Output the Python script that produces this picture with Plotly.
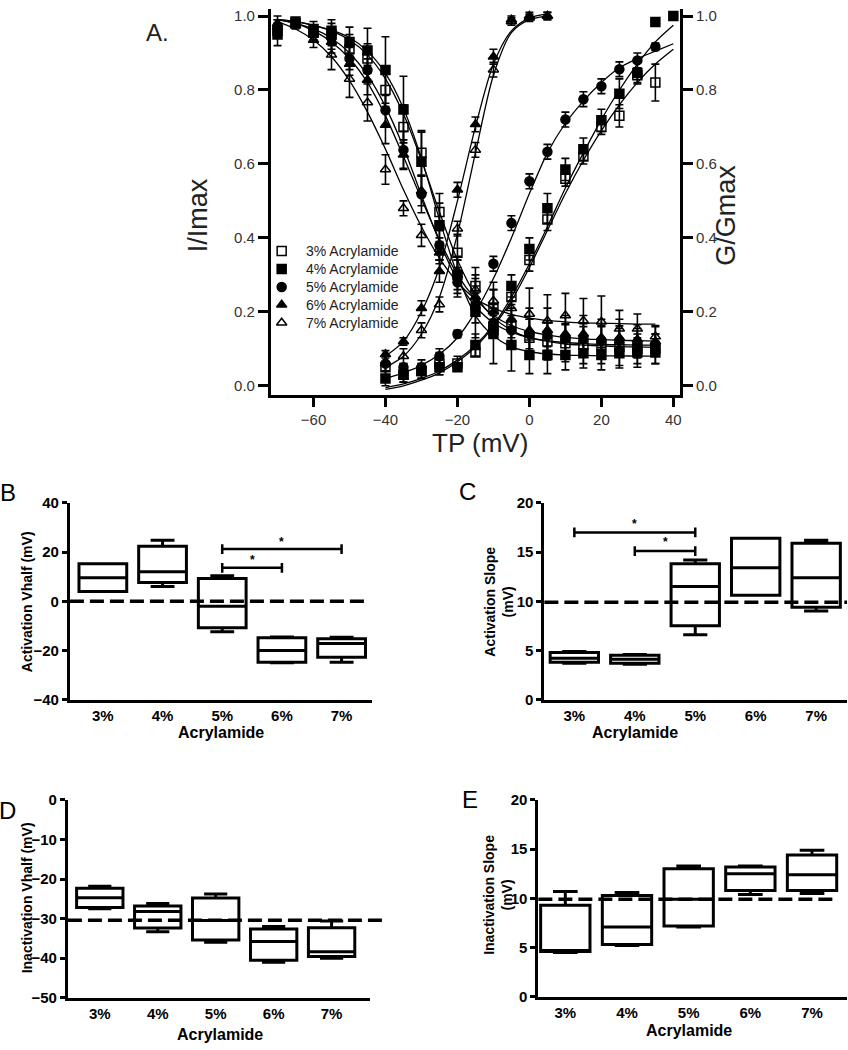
import plotly.graph_objects as go

FONT = "Arial, Liberation Sans, sans-serif"
W, H = 848, 1050

# ---------------- panel A data ----------------
groups = ["3% Acrylamide", "4% Acrylamide", "5% Acrylamide", "6% Acrylamide", "7% Acrylamide"]
symbols = ["square-open", "square", "circle", "triangle-up", "triangle-up-open"]

# steady-state inactivation (I/Imax)
v_inact = [-70, -65, -60, -55, -50, -45, -40, -35, -30, -25, -20,
           -15, -10, -5, 0, 5, 10, 15, 20, 25, 30, 35]
inact_3 = [0.96, 0.985, 0.955, 0.95, 0.91, 0.885, 0.80, 0.70, 0.63, 0.47, 0.36,
           0.27, 0.21, 0.16, 0.13, 0.12, 0.115, 0.11, 0.11, 0.105, 0.10, 0.10]
inact_4 = [0.95, 0.98, 0.965, 0.96, 0.93, 0.907, 0.854, 0.747, 0.606, 0.434, 0.30,
           0.20, 0.14, 0.11, 0.083, 0.083, 0.083, 0.088, 0.083, 0.088, 0.09, 0.09]
inact_5 = [0.97, 0.98, 0.955, 0.94, 0.885, 0.854, 0.745, 0.638, 0.518, 0.38, 0.28,
           0.21, 0.17, 0.15, 0.14, 0.136, 0.128, 0.128, 0.122, 0.122, 0.115, 0.11]
inact_6 = [0.98, 0.98, 0.95, 0.93, 0.87, 0.827, 0.705, 0.625, 0.527, 0.36, 0.30,
           0.24, 0.20, 0.18, 0.15, 0.15, 0.14, 0.14, 0.13, 0.13, 0.125, 0.12]
inact_7 = [0.97, 0.975, 0.935, 0.895, 0.83, 0.766, 0.585, 0.48, 0.407, 0.37, 0.31,
           0.26, 0.23, 0.21, 0.194, 0.176, 0.19, 0.176, 0.173, 0.154, 0.154, 0.133]

inact_err_3 = [0.02, 0.01, 0.02, 0.03, 0.04, 0.04, 0.05, 0.06, 0.06, 0.05, 0.05,
               0.05, 0.05, 0.05, 0.05, 0.05, 0.05, 0.05, 0.05, 0.05, 0.04, 0.04]
inact_err_4 = [0.03, 0.01, 0.02, 0.03, 0.04, 0.06, 0.09, 0.09, 0.08, 0.06, 0.05,
               0.07, 0.08, 0.07, 0.05, 0.05, 0.04, 0.04, 0.04, 0.04, 0.04, 0.03]
inact_err_5 = [0.02, 0.01, 0.02, 0.03, 0.03, 0.03, 0.04, 0.05, 0.05, 0.04, 0.04,
               0.04, 0.04, 0.04, 0.04, 0.04, 0.04, 0.04, 0.04, 0.04, 0.04, 0.03]
inact_err_6 = [0.02, 0.01, 0.02, 0.03, 0.03, 0.04, 0.05, 0.04, 0.04, 0.03, 0.04,
               0.05, 0.06, 0.05, 0.06, 0.06, 0.05, 0.05, 0.05, 0.05, 0.04, 0.04]
inact_err_7 = [0.02, 0.01, 0.02, 0.04, 0.05, 0.05, 0.04, 0.02, 0.03, 0.03, 0.03,
               0.04, 0.05, 0.05, 0.07, 0.07, 0.06, 0.06, 0.07, 0.05, 0.04, 0.03]

# fitted inactivation curves, read at the same potentials
inact_fit_3 = [0.99, 0.985, 0.975, 0.96, 0.935, 0.895, 0.83, 0.735, 0.61, 0.47, 0.34,
               0.245, 0.185, 0.15, 0.13, 0.12, 0.113, 0.11, 0.108, 0.106, 0.105, 0.104]
inact_fit_4 = [0.99, 0.985, 0.975, 0.962, 0.942, 0.905, 0.845, 0.75, 0.615, 0.45, 0.30,
               0.19, 0.135, 0.105, 0.092, 0.086, 0.083, 0.082, 0.081, 0.081, 0.08, 0.08]
inact_fit_5 = [0.99, 0.98, 0.965, 0.94, 0.90, 0.84, 0.755, 0.645, 0.515, 0.39, 0.285,
               0.215, 0.17, 0.145, 0.13, 0.122, 0.117, 0.114, 0.112, 0.111, 0.11, 0.11]
inact_fit_6 = [0.99, 0.98, 0.96, 0.93, 0.885, 0.82, 0.73, 0.62, 0.505, 0.395, 0.30,
               0.235, 0.19, 0.163, 0.147, 0.137, 0.131, 0.127, 0.125, 0.123, 0.122, 0.121]
inact_fit_7 = [0.985, 0.965, 0.935, 0.89, 0.825, 0.74, 0.64, 0.53, 0.43, 0.345, 0.28,
               0.235, 0.21, 0.193, 0.183, 0.177, 0.173, 0.17, 0.169, 0.168, 0.167, 0.167]

# activation (G/Gmax)
v_act_3 = [-40, -35, -30, -25, -20, -15, -10, -5, 0, 5, 10, 15, 20, 25, 30, 35]
act_3 = [0.05, 0.03, 0.04, 0.06, 0.06, 0.09, 0.15, 0.24, 0.34, 0.45, 0.56, 0.62, 0.70, 0.73, 0.84, 0.82]
act_err_3 = [0.03, 0.02, 0.02, 0.03, 0.02, 0.01, 0.02, 0.02, 0.03, 0.03, 0.02, 0.02, 0.02, 0.03, 0.02, 0.05]
v_act_4 = [-40, -35, -30, -25, -20, -15, -10, -5, 0, 5, 10, 15, 20, 25, 30, 35, 40]
act_4 = [0.02, 0.03, 0.04, 0.05, 0.05, 0.11, 0.16, 0.27, 0.37, 0.48, 0.585, 0.64, 0.718, 0.79, 0.846, 0.984, 1.0]
act_err_4 = [0.02, 0.02, 0.02, 0.02, 0.01, 0.03, 0.03, 0.03, 0.03, 0.04, 0.03, 0.03, 0.03, 0.04, 0.03, 0.01, 0.01]
v_act_5 = [-40, -35, -30, -25, -20, -15, -10, -5, 0, 5, 10, 15, 20, 25, 30, 35]
act_5 = [0.06, 0.05, 0.05, 0.08, 0.14, 0.22, 0.33, 0.44, 0.553, 0.633, 0.72, 0.775, 0.81, 0.856, 0.88, 0.917]
act_err_5 = [0.02, 0.01, 0.02, 0.02, 0.01, 0.02, 0.02, 0.02, 0.02, 0.02, 0.02, 0.02, 0.02, 0.02, 0.02, 0.01]
v_act_67 = [-40, -35, -30, -25, -20, -15, -10, -5, 0, 5]
act_6 = [0.085, 0.12, 0.21, 0.31, 0.53, 0.707, 0.89, 0.99, 1.0, 1.0]
act_err_6 = [0.01, 0.01, 0.02, 0.03, 0.02, 0.02, 0.02, 0.01, 0.01, 0.01]
act_7 = [0.06, 0.08, 0.15, 0.22, 0.425, 0.638, 0.855, 0.985, 0.995, 1.0]
act_err_7 = [0.02, 0.02, 0.02, 0.02, 0.02, 0.02, 0.02, 0.01, 0.01, 0.01]

# fitted activation curves
v_act_fit = [-40, -35, -30, -25, -20, -15, -10, -5, 0, 5, 10, 15, 20, 25, 30, 35, 40]
act_fit_3 = [-0.01, 0.0, 0.015, 0.035, 0.065, 0.105, 0.16, 0.23, 0.32, 0.42, 0.52, 0.61, 0.69, 0.76, 0.82, 0.87, 0.91]
act_fit_4 = [-0.005, 0.005, 0.02, 0.04, 0.07, 0.11, 0.165, 0.24, 0.33, 0.43, 0.535, 0.63, 0.72, 0.80, 0.87, 0.93, 0.975]
act_fit_5 = [0.02, 0.035, 0.055, 0.085, 0.13, 0.20, 0.29, 0.40, 0.52, 0.63, 0.71, 0.77, 0.82, 0.86, 0.885, 0.905, 0.925]
act_fit_6 = [0.08, 0.12, 0.20, 0.32, 0.50, 0.70, 0.87, 0.96, 0.995, 1.005]
act_fit_7 = [0.05, 0.08, 0.14, 0.24, 0.41, 0.63, 0.84, 0.955, 0.99, 1.0]

# ---------------- panels B-E data (box: min / q1 / median / q3 / max) ----------------
conc = ["3%", "4%", "5%", "6%", "7%"]

act_vhalf_min = [4.0, 6.0, -12.4, -25.0, -24.8]
act_vhalf_q1 = [4.0, 7.6, -10.8, -24.8, -22.8]
act_vhalf_med = [9.6, 12.0, -2.0, -20.0, -17.2]
act_vhalf_q3 = [15.2, 22.4, 9.2, -14.8, -15.2]
act_vhalf_max = [15.2, 24.8, 10.4, -14.5, -14.6]

act_slope_min = [3.7, 3.6, 6.6, 10.6, 9.0]
act_slope_q1 = [3.8, 3.7, 7.5, 10.6, 9.4]
act_slope_med = [4.2, 4.1, 11.5, 13.4, 12.4]
act_slope_q3 = [4.8, 4.5, 13.8, 16.4, 15.9]
act_slope_max = [4.9, 4.6, 14.2, 16.4, 16.2]

inact_vhalf_min = [-27.5, -33.3, -36.0, -41.0, -40.0]
inact_vhalf_q1 = [-27.2, -32.4, -35.4, -40.5, -39.6]
inact_vhalf_med = [-24.7, -28.2, -30.5, -35.8, -38.4]
inact_vhalf_q3 = [-22.3, -26.8, -24.8, -32.6, -32.3]
inact_vhalf_max = [-21.8, -26.2, -23.8, -32.0, -30.6]

inact_slope_min = [4.5, 5.2, 7.1, 10.4, 10.5]
inact_slope_q1 = [4.6, 5.3, 7.2, 10.8, 10.8]
inact_slope_med = [4.7, 7.1, 9.9, 12.5, 12.4]
inact_slope_q3 = [9.3, 10.3, 13.0, 13.2, 14.4]
inact_slope_max = [10.7, 10.6, 13.3, 13.3, 14.9]

# reference (dashed) levels
ref_act_vhalf = 0
ref_act_slope = 9.9
ref_inact_vhalf = -30.4
ref_inact_slope = 9.9


def px(x):
    return x / W


def py(y):
    return 1 - y / H


fig = go.Figure()

inact_sets = [
    (inact_3, inact_err_3, inact_fit_3),
    (inact_4, inact_err_4, inact_fit_4),
    (inact_5, inact_err_5, inact_fit_5),
    (inact_6, inact_err_6, inact_fit_6),
    (inact_7, inact_err_7, inact_fit_7),
]
act_sets = [
    (v_act_3, act_3, act_err_3, v_act_fit, act_fit_3),
    (v_act_4, act_4, act_err_4, v_act_fit, act_fit_4),
    (v_act_5, act_5, act_err_5, v_act_fit, act_fit_5),
    (v_act_67, act_6, act_err_6, v_act_67, act_fit_6),
    (v_act_67, act_7, act_err_7, v_act_67, act_fit_7),
]

line_style = dict(color="black", width=1.3, shape="spline", smoothing=0.8)
err_style = dict(type="data", color="black", thickness=1.6, width=4)

# fitted curves first so markers sit on top
for (vals, err, fit) in inact_sets:
    fig.add_trace(go.Scatter(x=v_inact, y=fit, mode="lines", line=line_style,
                             showlegend=False, hoverinfo="skip", xaxis="x", yaxis="y"))
for (v, vals, err, vf, fit) in act_sets:
    fig.add_trace(go.Scatter(x=vf, y=fit, mode="lines", line=line_style,
                             showlegend=False, hoverinfo="skip", xaxis="x", yaxis="y6"))

for name, sym, (vals, err, fit) in zip(groups, symbols, inact_sets):
    fig.add_trace(go.Scatter(
        x=v_inact, y=vals, mode="markers", name=name, showlegend=False,
        marker=dict(symbol=sym, size=9, color="black", line=dict(color="black", width=1.5)),
        error_y=dict(array=err, **err_style), xaxis="x", yaxis="y"))
for name, sym, (v, vals, err, vf, fit) in zip(groups, symbols, act_sets):
    fig.add_trace(go.Scatter(
        x=v, y=vals, mode="markers", name=name, showlegend=False,
        marker=dict(symbol=sym, size=9, color="black", line=dict(color="black", width=1.5)),
        error_y=dict(array=err, **err_style), xaxis="x", yaxis="y6"))

# legend of panel A: symbols on a hidden axis pair, one row per group
legend_rows = list(range(len(groups)))
fig.add_trace(go.Scatter(
    x=[0] * len(groups), y=legend_rows, mode="markers", showlegend=False, hoverinfo="skip",
    marker=dict(symbol=symbols, size=9, color="black", line=dict(color="black", width=1.5)),
    xaxis="x6", yaxis="y7"))

# ---------------- box panels ----------------
box_panels = [
    ("x2", "y2", act_vhalf_min, act_vhalf_q1, act_vhalf_med, act_vhalf_q3, act_vhalf_max),
    ("x3", "y3", act_slope_min, act_slope_q1, act_slope_med, act_slope_q3, act_slope_max),
    ("x4", "y4", inact_vhalf_min, inact_vhalf_q1, inact_vhalf_med, inact_vhalf_q3, inact_vhalf_max),
    ("x5", "y5", inact_slope_min, inact_slope_q1, inact_slope_med, inact_slope_q3, inact_slope_max),
]
for xa, ya, lo, q1, med, q3, hi in box_panels:
    fig.add_trace(go.Box(
        x=list(range(len(conc))), lowerfence=lo, q1=q1, median=med, q3=q3, upperfence=hi,
        width=0.8, whiskerwidth=0.5, boxpoints=False, fillcolor="rgba(0,0,0,0)",
        line=dict(color="black", width=3), showlegend=False, hoverinfo="skip",
        xaxis=xa, yaxis=ya))

# ---------------- axes ----------------
a_tick = dict(family=FONT, size=15, color="#333")
a_common = dict(showline=True, linecolor="black", linewidth=2.5, ticks="outside",
                ticklen=10, tickwidth=2.5, tickcolor="black", showgrid=False,
                zeroline=False, tickfont=a_tick)

fig.update_layout(
    xaxis=dict(domain=[px(271), px(681)], range=[-71.9, 41.9], anchor="y",
               tickvals=[-60, -40, -20, 0, 20, 40], **a_common),
    yaxis=dict(domain=[py(392), 1.0], range=[-0.024, 1.019], anchor="x",
               tickvals=[0, 0.2, 0.4, 0.6, 0.8, 1.0], tickformat=".1f", **a_common),
    yaxis6=dict(range=[-0.024, 1.019], overlaying="y", side="right", anchor="x",
                tickvals=[0, 0.2, 0.4, 0.6, 0.8, 1.0], tickformat=".1f", **a_common),
    # hidden axes holding the legend symbols
    xaxis6=dict(domain=[px(272), px(292)], range=[-1, 1], anchor="y7", visible=False),
    yaxis7=dict(domain=[py(328), py(237)], range=[4.5, -0.5], anchor="x6", visible=False),
)

b_tick = dict(family=FONT, size=15, color="black", weight="bold")
b_x = dict(showline=True, linecolor="black", linewidth=3, ticks="", showgrid=False,
           zeroline=False, tickfont=b_tick, tickvals=list(range(len(conc))), ticktext=conc)
b_y = dict(showline=True, linecolor="black", linewidth=3, ticks="outside", ticklen=5,
           tickwidth=2.5, tickcolor="black", showgrid=False, zeroline=False, tickfont=b_tick)

fig.update_layout(
    xaxis2=dict(domain=[px(70), px(372)], range=[-0.552, 4.502], anchor="y2", **b_x),
    yaxis2=dict(domain=[py(702), py(502)], range=[-40, 40], anchor="x2",
                tickvals=[-40, -20, 0, 20, 40], **b_y),
    xaxis3=dict(domain=[px(545), 1.0], range=[-0.496, 4.51], anchor="y3", **b_x),
    yaxis3=dict(domain=[py(702), py(502)], range=[0, 20], anchor="x3",
                tickvals=[0, 5, 10, 15, 20], **b_y),
    xaxis4=dict(domain=[px(68), px(370)], range=[-0.55, 4.655], anchor="y4", **b_x),
    yaxis4=dict(domain=[py(1005), py(804)], range=[-50, 0], anchor="x4",
                tickvals=[-50, -40, -30, -20, -10, 0], **b_y),
    xaxis5=dict(domain=[px(539), 1.0], range=[-0.437, 4.567], anchor="y5", **b_x),
    yaxis5=dict(domain=[py(1004), py(804)], range=[0, 20], anchor="x5",
                tickvals=[0, 5, 10, 15, 20], **b_y),
)

# ---------------- dashed reference lines & significance bars ----------------
dash = dict(color="black", width=3.5, dash="14px,6px")
shapes = [
    dict(type="line", xref="x2 domain", yref="y2", x0=0, x1=0.985,
         y0=ref_act_vhalf, y1=ref_act_vhalf, line=dash),
    dict(type="line", xref="x3 domain", yref="y3", x0=0, x1=1.0,
         y0=ref_act_slope, y1=ref_act_slope, line=dash),
    dict(type="line", xref="x4 domain", yref="y4", x0=0, x1=1.05,
         y0=ref_inact_vhalf, y1=ref_inact_vhalf, line=dash),
    dict(type="line", xref="x5 domain", yref="y5", x0=0, x1=0.96,
         y0=ref_inact_slope, y1=ref_inact_slope, line=dash),
]

# (axis, x from, x to, y level, cap half-height, star y)
sig_bars = [
    ("2", 2, 4, 21.2, 2.0, 24.2),
    ("2", 2, 3, 13.6, 2.0, 16.6),
    ("3", 0, 2, 17.0, 0.5, 17.9),
    ("3", 1, 2, 15.1, 0.5, 16.0),
]
bar_line = dict(color="black", width=2.5)
annotations = []
for ax, xa, xb, yv, cap, ys in sig_bars:
    shapes.append(dict(type="line", xref="x" + ax, yref="y" + ax, x0=xa, x1=xb,
                       y0=yv, y1=yv, line=bar_line))
    for xe in (xa, xb):
        shapes.append(dict(type="line", xref="x" + ax, yref="y" + ax, x0=xe, x1=xe,
                           y0=yv - cap, y1=yv + cap, line=bar_line))
    annotations.append(dict(xref="x" + ax, yref="y" + ax, x=(xa + xb) / 2, y=ys,
                            text="<b>*</b>", showarrow=False,
                            font=dict(family=FONT, size=12, color="black")))

# legend texts
for row, name in zip(legend_rows, groups):
    annotations.append(dict(xref="paper", yref="y7", x=px(304), y=row, text=name,
                            showarrow=False, xanchor="left", yanchor="middle",
                            font=dict(family=FONT, size=14, color="#222")))


def label(x, y, text, size, angle=0, bold=False, color="black"):
    t = "<b>" + text + "</b>" if bold else text
    annotations.append(dict(xref="paper", yref="paper", x=px(x), y=py(y), text=t,
                            showarrow=False, textangle=angle, xanchor="center",
                            yanchor="middle",
                            font=dict(family=FONT, size=size, color=color)))


# panel A titles
label(158, 24, "A.", 24, color="#222")
label(198, 210, "I/Imax", 27, angle=-90, color="#222")
label(726, 210, "G/Gmax", 27, angle=-90, color="#222")
label(481, 441, "TP (mV)", 26, color="#222")

# panel letters
label(8, 491, "B", 24)
label(468, 490, "C", 24)
label(8, 815, "D", 24)
label(471, 804, "E", 24)

# box-panel axis titles
label(27, 602, "Activation Vhalf (mV)", 14, angle=-90, bold=True)
label(500, 602, "Activation Slope<br>(mV)", 14, angle=-90, bold=True)
label(27, 903, "Inactivation Vhalf (mV)", 14, angle=-90, bold=True)
label(499, 900, "Inactivation Slope<br>(mV)", 14, angle=-90, bold=True)
label(221, 735, "Acrylamide", 16, bold=True)
label(636, 735, "Acrylamide", 16, bold=True)
label(220, 1042, "Acrylamide", 16, bold=True)
label(690, 1038, "Acrylamide", 16, bold=True)

fig.update_layout(
    width=W, height=H,
    margin=dict(l=0, r=0, t=0, b=0),
    paper_bgcolor="white", plot_bgcolor="white",
    font=dict(family=FONT, color="black"),
    shapes=shapes, annotations=annotations,
    showlegend=False,
)

# drop the default page margin so the figure fills the window exactly
fig.write_html("out.html", config={"displayModeBar": False},
               post_script="document.body.style.margin='0px';"
                           "document.body.style.overflow='hidden';")
